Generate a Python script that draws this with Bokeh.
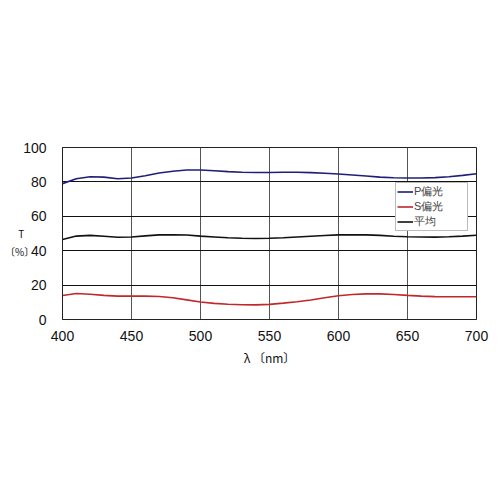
from bokeh.plotting import figure
from bokeh.models import Legend, LegendItem, FixedTicker, Range1d
from bokeh.embed import file_html
from bokeh.resources import INLINE

wavelength = [400, 410, 420, 430, 440, 450, 460, 470, 480, 490, 500, 510, 520, 530, 540, 550,
              560, 570, 580, 590, 600, 610, 620, 630, 640, 650, 660, 670, 680, 690, 700]
p_pol = [79.0, 81.8, 83.0, 82.8, 81.8, 82.3, 83.6, 85.2, 86.2, 86.9, 86.9, 86.5, 86.0, 85.6, 85.5, 85.5,
         85.6, 85.6, 85.4, 85.0, 84.6, 84.0, 83.4, 82.8, 82.4, 82.3, 82.3, 82.5, 83.0, 83.8, 84.7]
s_pol = [14.0, 15.1, 14.7, 14.0, 13.6, 13.6, 13.6, 13.4, 12.6, 11.4, 10.2, 9.4, 8.9, 8.6, 8.5, 8.8,
         9.5, 10.3, 11.3, 12.6, 13.8, 14.5, 14.9, 14.9, 14.5, 14.0, 13.6, 13.3, 13.2, 13.2, 13.2]
avg = [46.5, 48.5, 48.9, 48.4, 47.8, 48.0, 48.6, 49.2, 49.3, 49.1, 48.5, 48.0, 47.5, 47.2, 47.1, 47.2,
       47.5, 48.0, 48.4, 48.8, 49.2, 49.3, 49.2, 48.9, 48.4, 48.1, 48.0, 47.9, 48.1, 48.5, 49.0]
x_ticks = [400, 450, 500, 550, 600, 650, 700]
y_ticks = [0, 20, 40, 60, 80, 100]
series_names = ["P偏光", "S偏光", "平均"]
x_label = "λ 〔nm〕"
y_label = " \nT\u3000\n〔%〕"

W, H = 500, 500
p = figure(width=W, height=H, output_backend="svg", toolbar_location=None,
           x_range=Range1d(400, 700), y_range=Range1d(0, 100),
           min_border_left=62, min_border_right=24, min_border_top=147, min_border_bottom=181)
p.background_fill_color = "white"
p.border_fill_color = "white"
p.outline_line_color = "#222222"
p.outline_line_width = 1

p.xaxis.ticker = FixedTicker(ticks=x_ticks)
p.yaxis.ticker = FixedTicker(ticks=y_ticks)
for ax in (p.xaxis[0], p.yaxis[0]):
    ax.major_tick_line_color = None
    ax.minor_tick_line_color = None
    ax.major_tick_out = 0
    ax.major_tick_in = 0
    ax.axis_line_color = "#222222"
    ax.major_label_text_font = "Liberation Sans"
    ax.major_label_text_font_size = "14px"
    ax.major_label_text_color = "#111111"
    ax.axis_label_text_font = "Noto Sans CJK JP"
    ax.axis_label_text_font_style = "normal"
    ax.axis_label_text_color = "#111111"
p.xaxis.major_label_standoff = 11
p.yaxis.major_label_standoff = 16
p.xaxis.axis_label = x_label
p.xaxis.axis_label_text_font_size = "12px"
p.xaxis.axis_label_standoff = 5
p.yaxis.axis_label = y_label
p.yaxis.axis_label_text_font_size = "10px"
p.yaxis.axis_label_orientation = "horizontal"
p.yaxis.axis_label_standoff = -14

p.xgrid.grid_line_color = "#555555"
p.ygrid.grid_line_color = "#111111"
p.xgrid.grid_line_width = 1
p.ygrid.grid_line_width = 1

r_p = p.line(wavelength, p_pol, line_color="#1f1f7a", line_width=1.6)
r_s = p.line(wavelength, s_pol, line_color="#c0282a", line_width=1.6)
r_a = p.line(wavelength, avg, line_color="#111111", line_width=1.6)

legend = Legend(items=[LegendItem(label=series_names[0], renderers=[r_p]),
                       LegendItem(label=series_names[1], renderers=[r_s]),
                       LegendItem(label=series_names[2], renderers=[r_a])],
                location=(333, 88))
legend.label_text_font = "Liberation Sans"
legend.label_text_font_size = "11px"
legend.label_height = 11
legend.glyph_height = 11
legend.glyph_width = 16
legend.label_standoff = 1
legend.spacing = 0
legend.padding = 1
legend.margin = 0
legend.label_width = 52
legend.border_line_color = "#777777"
legend.background_fill_color = "white"
legend.background_fill_alpha = 1
p.add_layout(legend, "center")

open("out.html", "w").write(file_html(p, INLINE))
